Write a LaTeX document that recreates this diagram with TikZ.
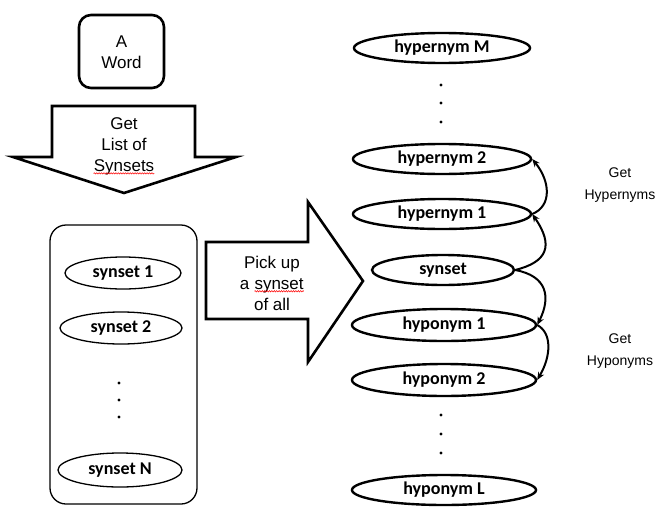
\documentclass[tikz,border=0pt]{standalone}
\usepackage{fontspec}
\setmainfont{Liberation Sans}
\newfontfamily\labelfont{Carlito}
\usetikzlibrary{shapes.geometric,arrows.meta,decorations.pathmorphing}

\tikzset{
  wordbox/.style={draw, line width=2.6pt, rounded corners=12pt},
  blockarrow/.style={draw, line width=2.6pt, line join=miter, fill=white},
  panel/.style={draw, line width=1.3pt, rounded corners=16pt},
  bigoval/.style={draw, ellipse, line width=2.4pt, inner sep=0pt,
    font=\labelfont\bfseries\fontsize{18}{20}\selectfont},
  smalloval/.style={draw, ellipse, line width=1.3pt, inner sep=0pt,
    font=\labelfont\bfseries\fontsize{18}{20}\selectfont},
  boxtext/.style={align=center, inner sep=0pt,
    font=\fontsize{17}{21}\selectfont},
  sidetext/.style={align=center, inner sep=0pt,
    font=\fontsize{14}{22}\selectfont},
  vdot/.style={circle, fill=black, inner sep=0pt, minimum size=3.2pt},
  conn/.style={line width=2pt, -{Stealth[length=8pt,width=6.5pt]}},
  squiggle/.style={red, line width=0.5pt, decorate,
    decoration={snake, amplitude=0.7pt, segment length=2.4pt}}
}

% word with a red wavy underline beneath it
\newcommand{\wavyword}[1]{\tikz[baseline=(ww.base)]{%
  \node[anchor=base, inner sep=0pt] (ww) {#1};
  \draw[squiggle] ([yshift=-2.2pt]ww.base west) -- ([yshift=-2.2pt]ww.base east);}}

\begin{document}
\begin{tikzpicture}[x=1pt, y=-1pt]
\useasboundingbox (0,0) rectangle (658,506);

% the input word
\draw[wordbox] (79,15) rectangle (164,88);
\node[boxtext] (word) at (121.5,52) {A\\Word};

% downward block arrow
\draw[blockarrow] (52,106) -- (195,106) -- (195,157) -- (236,157)
  -- (124,193) -- (13,157) -- (52,157) -- cycle;
\node[boxtext] (getlist) at (124,146) {Get\\List of\\\wavyword{Synsets}};

% panel holding the list of synsets
\draw[panel] (50,225) rectangle (197,504);
\node[smalloval, minimum width=116pt, minimum height=32pt] (s1) at (123,273) {synset 1};
\node[smalloval, minimum width=122pt, minimum height=32pt] (s2) at (121,328) {synset 2};
\node[vdot] (ld1) at (119,383) {};
\node[vdot] (ld2) at (119,400) {};
\node[vdot] (ld3) at (119,417) {};
\node[smalloval, minimum width=124pt, minimum height=34pt] (sN) at (120,470) {synset N};

% rightward block arrow
\draw[blockarrow] (206,242) -- (308,242) -- (308,202) -- (363,281)
  -- (308,362) -- (308,319) -- (206,319) -- cycle;
\node[boxtext] (pick) at (272,283) {Pick up\\a \wavyword{synset}\\of all};

% hierarchy around the chosen synset
\node[bigoval, minimum width=176pt, minimum height=30pt] (hypM) at (442,48) {hypernym M};
\node[vdot] (td1) at (441,85) {};
\node[vdot] (td2) at (441,103) {};
\node[vdot] (td3) at (441,122) {};
\node[bigoval, minimum width=178pt, minimum height=30pt] (hyp2) at (442,159) {hypernym 2};
\node[bigoval, minimum width=178pt, minimum height=30pt] (hyp1) at (442,214) {hypernym 1};
\node[bigoval, minimum width=142pt, minimum height=30pt] (syn) at (443,270) {synset};
\node[bigoval, minimum width=184pt, minimum height=32pt] (hypo1) at (444,325) {hyponym 1};
\node[bigoval, minimum width=184pt, minimum height=32pt] (hypo2) at (444,380) {hyponym 2};
\node[vdot] (bd1) at (441,415) {};
\node[vdot] (bd2) at (441,434) {};
\node[vdot] (bd3) at (441,453) {};
\node[bigoval, minimum width=184pt, minimum height=30pt] (hypoL) at (444,490) {hyponym L};

% climbing to hypernyms
\draw[conn] (syn.east) .. controls +(32,-8) and +(22,32) .. (hyp1.east);
\draw[conn] (hyp1.east) .. controls +(20,-8) and +(18,22) .. (hyp2.east);
% descending to hyponyms
\draw[conn] (syn.east) .. controls +(32,6) and +(14,-28) .. (hypo1.east);
\draw[conn] (hypo1.east) .. controls +(15,8) and +(14,-24) .. (hypo2.east);

\node[sidetext] (gethyper) at (620,185) {Get\\Hypernyms};
\node[sidetext] (gethypo) at (620,351) {Get\\Hyponyms};
\end{tikzpicture}
\end{document}
